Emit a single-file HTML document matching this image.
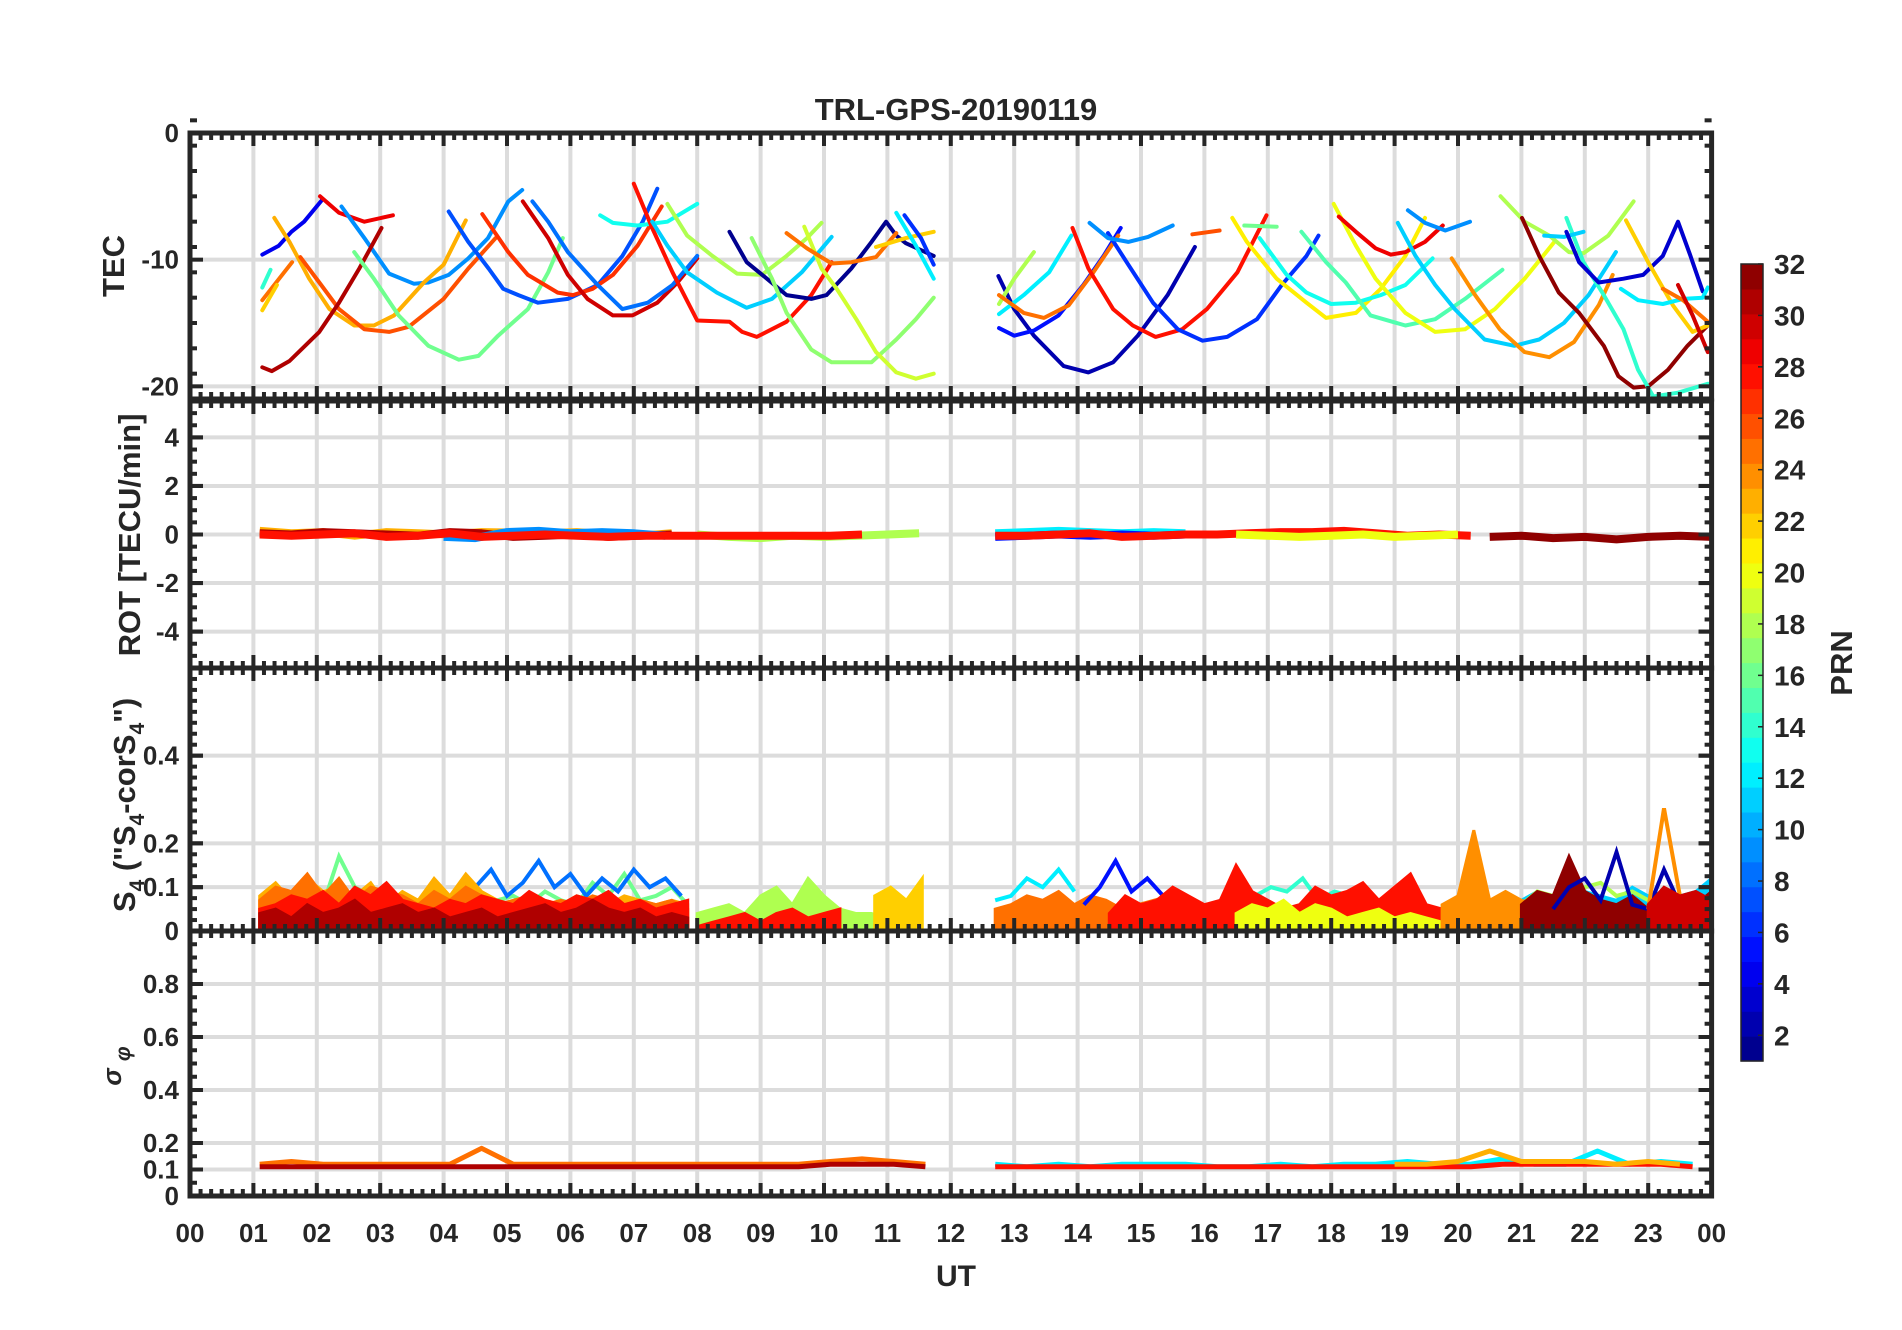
<!DOCTYPE html>
<html><head><meta charset="utf-8"><title>TRL-GPS-20190119</title>
<style>
html,body{margin:0;padding:0;background:#fff;}
svg{display:block;}
text{font-family:"Liberation Sans",Arial,sans-serif;font-weight:bold;fill:#262626;}
</style></head>
<body>
<svg id="chart" width="1902" height="1330" viewBox="0 0 1902 1330" xmlns="http://www.w3.org/2000/svg">
<rect x="0" y="0" width="1902" height="1330" fill="#fff"/>
<text x="956" y="120" font-size="31" text-anchor="middle">TRL-GPS-20190119</text>
<text x="956" y="1286" font-size="30" text-anchor="middle">UT</text>
<text transform="translate(124,266) rotate(-90)" font-size="31" text-anchor="middle">TEC</text>
<text transform="translate(140,535) rotate(-90)" font-size="31" text-anchor="middle">ROT [TECU/min]</text>
<text transform="translate(135,805) rotate(-90)" font-size="31" text-anchor="middle">S<tspan font-size="21" dy="9">4</tspan><tspan dy="-9"> ("S</tspan><tspan font-size="21" dy="9">4</tspan><tspan dy="-9">-corS</tspan><tspan font-size="21" dy="9">4</tspan><tspan dy="-9">")</tspan></text>
<text transform="translate(121,1066) rotate(-90)" font-size="26" font-style="italic" font-weight="normal" font-family="Liberation Serif, serif" text-anchor="middle">σ <tspan font-size="21" dy="9">φ</tspan></text>
<text transform="translate(1852,663) rotate(-90)" font-size="31" text-anchor="middle">PRN</text>
<g id="layer-grid"></g>
<g id="layer-data"></g>
<g id="layer-axes"></g>
<g id="layer-cbar"></g>
</svg>
<script>
// ---------------- DATA ----------------
const hourLabels = ["00","01","02","03","04","05","06","07","08","09","10","11","12","13","14","15","16","17","18","19","20","21","22","23","00"];
const tecTicks = [0,-10,-20];
const rotTicks = [4,2,0,-2,-4];
const s4Ticks = [0.4,0.2,0.1,0];
const sigTicks = [0.8,0.6,0.4,0.2,0.1,0];
const cbarTicks = [2,4,6,8,10,12,14,16,18,20,22,24,26,28,30,32];

// TEC curves: interleaved [hour, TEC]
const tecC1 = [1.14,-9.6, 1.4,-8.9, 1.6,-7.8, 1.8,-7.0, 2.08,-5.3];
const tecC2 = [2.05,-5.0, 2.35,-6.3, 2.75,-7.0, 3.2,-6.5];
const tecC3 = [2.39,-5.8, 2.75,-8.3, 3.14,-11.1, 3.53,-11.9, 3.76,-11.8, 4.08,-11.2, 4.39,-9.9, 4.7,-8.3, 5.02,-5.4, 5.24,-4.5];
const tecC4 = [1.33,-6.7, 1.57,-8.6, 1.88,-11.5, 2.2,-13.9, 2.59,-15.2, 2.9,-15.2, 3.22,-14.4, 3.69,-11.8, 4.0,-10.4, 4.35,-6.9];
const tecC5 = [1.74,-9.8, 2.04,-11.8, 2.35,-13.9, 2.75,-15.5, 3.14,-15.7, 3.45,-15.3, 4.0,-13.1, 4.39,-10.7, 4.82,-8.3];
const tecC6 = [1.14,-13.2, 1.61,-10.2];
const tecC7 = [1.14,-14.0, 1.37,-12.0];
const tecC8 = [1.14,-12.2, 1.27,-10.8];
const tecC9 = [1.14,-18.5, 1.29,-18.8, 1.57,-18.0, 2.04,-15.7, 2.35,-13.4, 2.67,-10.7, 3.02,-7.5];
const tecC10 = [2.59,-9.4, 2.9,-11.5, 3.29,-14.4, 3.76,-16.8, 4.24,-17.9, 4.55,-17.6, 4.86,-16.0, 5.33,-13.9, 5.65,-11.0, 5.88,-8.3];
const tecC11 = [4.08,-6.2, 4.39,-8.6, 4.71,-10.7, 4.94,-12.3, 5.18,-12.8, 5.49,-13.4, 5.96,-13.1, 6.43,-12.0, 6.82,-9.7, 7.14,-7.0, 7.37,-4.4];
const tecC12 = [4.61,-6.4, 5.02,-9.4, 5.33,-11.2, 5.8,-12.6, 6.04,-12.8, 6.35,-12.3, 6.67,-11.2, 7.06,-8.9, 7.44,-5.8];
const tecC13 = [5.25,-5.4, 5.65,-8.3, 5.96,-11.2, 6.27,-13.1, 6.67,-14.4, 6.98,-14.4, 7.37,-13.4, 7.69,-11.8, 8.0,-9.9];
const tecC14 = [5.4,-5.4, 5.65,-7.0, 5.96,-9.4, 6.43,-12.0, 6.82,-13.9, 7.22,-13.4, 7.61,-12.0, 8.0,-9.7];
const tecC15 = [6.47,-6.5, 6.67,-7.1, 7.06,-7.3, 7.53,-7.0, 8.0,-5.6];
const tecC16 = [7.0,-4.0, 7.29,-7.5, 7.61,-11.0, 8.0,-14.8, 8.51,-14.9, 8.71,-15.7, 8.94,-16.1, 9.41,-14.9, 9.8,-12.8, 10.12,-10.2];
const tecC17 = [7.29,-7.0, 7.53,-8.9, 7.84,-11.0, 8.31,-12.6, 8.78,-13.8, 9.18,-13.1, 9.65,-11.0, 10.12,-8.2];
const tecC18 = [7.53,-5.6, 7.84,-8.1, 8.24,-9.7, 8.63,-11.1, 9.02,-11.2, 9.41,-9.7, 9.73,-8.3, 9.96,-7.1];
const tecC19 = [8.51,-7.8, 8.78,-10.2, 9.1,-11.5, 9.41,-12.8, 9.8,-13.1, 10.04,-12.8, 10.43,-10.7, 10.75,-8.6, 10.98,-7.0, 11.14,-8.1, 11.29,-8.7, 11.73,-9.7];
const tecC20 = [8.86,-8.3, 9.18,-11.5, 9.41,-14.2, 9.8,-17.1, 10.12,-18.1, 10.75,-18.1, 11.14,-16.3, 11.45,-14.7, 11.73,-13.0];
const tecC21 = [9.69,-7.4, 9.96,-10.7, 10.2,-12.3, 10.51,-14.7, 10.82,-17.3, 11.14,-18.9, 11.45,-19.4, 11.73,-19.0];
const tecC22 = [9.41,-7.9, 9.73,-9.1, 10.12,-10.3, 10.43,-10.2, 10.82,-9.8, 11.14,-7.9];
const tecC23 = [10.82,-9.0, 11.29,-8.3, 11.73,-7.8];
const tecC24 = [11.14,-6.3, 11.45,-8.9, 11.73,-11.5];
const tecC25 = [11.27,-6.5, 11.53,-8.3, 11.73,-10.4];
const tecC26 = [12.75,-11.3, 13.0,-13.9, 13.31,-16.0, 13.78,-18.4, 14.17,-18.9, 14.56,-18.1, 14.95,-16.0, 15.42,-12.8, 15.85,-9.0];
const tecC27 = [12.76,-15.4, 13.0,-16.0, 13.31,-15.6, 13.7,-14.4, 14.09,-12.0, 14.41,-9.7, 14.68,-7.5];
const tecC28 = [12.76,-14.3, 13.15,-12.8, 13.55,-11.0, 13.9,-8.1];
const tecC29 = [12.76,-13.5, 13.0,-11.5, 13.31,-9.4];
const tecC30 = [12.76,-12.8, 13.15,-14.2, 13.47,-14.6, 13.86,-13.6, 14.25,-11.0, 14.64,-8.1];
const tecC31 = [13.92,-7.5, 14.17,-10.7, 14.56,-13.9, 14.87,-15.2, 15.23,-16.1, 15.65,-15.5, 16.04,-13.9, 16.52,-11.0, 16.98,-6.5];
const tecC32 = [14.48,-7.9, 14.8,-10.4, 15.19,-13.4, 15.58,-15.5, 15.97,-16.4, 16.36,-16.1, 16.83,-14.7, 17.22,-12.0, 17.61,-9.7, 17.8,-8.1];
const tecC33 = [14.19,-7.1, 14.48,-8.3, 14.8,-8.6, 15.11,-8.2, 15.5,-7.3];
const tecC34 = [15.81,-8.0, 16.24,-7.7];
const tecC35 = [16.63,-7.3, 17.14,-7.4];
const tecC36 = [16.44,-6.7, 16.67,-8.6, 17.14,-11.5, 17.61,-13.4, 17.92,-14.6, 18.39,-14.2, 18.78,-12.3, 19.17,-9.7, 19.48,-6.7];
const tecC37 = [16.87,-8.3, 17.3,-11.2, 17.61,-12.6, 18.0,-13.5, 18.39,-13.4, 18.78,-12.8, 19.17,-12.0, 19.6,-9.9];
const tecC38 = [17.53,-7.8, 17.92,-10.2, 18.23,-11.8, 18.62,-14.4, 19.17,-15.2, 19.64,-14.7, 20.11,-13.1, 20.7,-10.8];
const tecC39 = [18.04,-5.6, 18.39,-8.9, 18.7,-11.5, 19.17,-14.2, 19.64,-15.7, 20.11,-15.5, 20.58,-13.9, 21.05,-11.5, 21.52,-8.6];
const tecC40 = [18.12,-6.6, 18.39,-7.8, 18.7,-9.1, 18.94,-9.6, 19.17,-9.4, 19.48,-8.6, 19.76,-7.3];
const tecC41 = [19.21,-6.1, 19.48,-7.1, 19.8,-7.7, 20.19,-7.0];
const tecC42 = [19.05,-7.1, 19.33,-9.7, 19.64,-12.0, 19.95,-13.9, 20.42,-16.3, 20.89,-16.8, 21.28,-16.3, 21.67,-15.0, 22.06,-12.8, 22.49,-9.4];
const tecC43 = [19.9,-9.9, 20.27,-12.8, 20.66,-15.5, 21.05,-17.3, 21.44,-17.7, 21.83,-16.5, 22.22,-13.6, 22.44,-11.2];
const tecC44 = [20.67,-5.0, 21.05,-7.0, 21.44,-8.1, 21.75,-9.4, 21.98,-9.5, 22.37,-8.1, 22.77,-5.4];
const tecC45 = [21.01,-6.7, 21.28,-9.7, 21.59,-12.6, 21.91,-14.2, 22.3,-16.8, 22.53,-19.2, 22.77,-20.1, 23.0,-20.0, 23.31,-18.7, 23.62,-16.8, 23.94,-15.2];
const tecC46 = [21.71,-6.7, 21.98,-10.2, 22.3,-12.8, 22.61,-15.5, 22.84,-18.7, 23.08,-20.8, 23.47,-20.5, 23.94,-19.8];
const tecC47 = [21.36,-8.1, 21.67,-8.2, 21.98,-7.8];
const tecC48 = [21.71,-7.8, 21.91,-10.2, 22.22,-11.8, 22.61,-11.5, 22.92,-11.2, 23.23,-9.7, 23.47,-7.0, 23.66,-9.6, 23.86,-12.5];
const tecC49 = [22.65,-6.9, 23.0,-10.2, 23.39,-13.6, 23.7,-15.7, 23.94,-15.2];
const tecC50 = [22.57,-12.3, 22.84,-13.2, 23.23,-13.5, 23.55,-13.1, 23.86,-13.0, 23.94,-12.2];
const tecC51 = [23.23,-12.3, 23.55,-13.2, 23.94,-14.9];
const tecC52 = [23.47,-12.0, 23.7,-14.4, 23.94,-17.3];
const tecPrns = [4,29,9,23,26,25,22,14,31,16,7,27,30,8,13,28,11,18,1,17,19,25,22,12,6,
                 2,5,12,18,25,28,6,9,26,16,21,13,15,20,29,9,11,24,18,32,14,11,3,22,12,25,30];
const tecCurves = [tecC1,tecC2,tecC3,tecC4,tecC5,tecC6,tecC7,tecC8,tecC9,tecC10,tecC11,tecC12,tecC13,tecC14,tecC15,tecC16,tecC17,tecC18,tecC19,tecC20,tecC21,tecC22,tecC23,tecC24,tecC25,
                   tecC26,tecC27,tecC28,tecC29,tecC30,tecC31,tecC32,tecC33,tecC34,tecC35,tecC36,tecC37,tecC38,tecC39,tecC40,tecC41,tecC42,tecC43,tecC44,tecC45,tecC46,tecC47,tecC48,tecC49,tecC50,tecC51,tecC52];

// ROT series: start hour, step 0.5 h, values TECU/min
const rotStarts = [1.1, 1.1, 4.0, 1.1, 12.7, 12.7, 16.5, 20.5, 12.7, 8.0];
const rotPrns   = [23, 31, 9, 28, 12, 28, 20, 32, 5, 18];
const rotV1 = [0.15,0.05,0.1,-0.05,0.1,0.05,0.0,0.1,0.08,0.05,0.1,0.0,-0.05,0.05];
const rotV2 = [0.05,0.0,0.1,0.05,0.0,-0.05,0.1,0.05,-0.1,-0.05,0.0,-0.1,-0.05,0.0];
const rotV3 = [-0.1,-0.15,0.1,0.15,0.05,0.1,0.05,-0.05];
const rotV4 = [0.0,-0.05,0.0,0.05,-0.1,-0.05,0.05,-0.1,-0.05,0.0,-0.05,-0.1,-0.05,-0.05,-0.05,-0.05,-0.05,-0.05,-0.05,0.0];
const rotV5 = [0.05,0.1,0.15,0.1,0.05,0.1,0.05];
const rotV6 = [-0.05,-0.05,0.0,0.05,-0.1,-0.05,0.0,0.0,0.05,0.1,0.1,0.15,0.05,-0.05,0.0,-0.05];
const rotV7 = [0.0,-0.05,-0.1,-0.05,0.0,-0.1,-0.05,0.0];
const rotV8 = [-0.1,-0.05,-0.15,-0.1,-0.2,-0.1,-0.05,-0.1,-0.1,-0.15];
const rotV9 = [-0.1,-0.05,0.0,-0.05,0.0,-0.05,0.0,0.0];
const rotV10 = [0.0,-0.1,-0.15,-0.05,-0.1,-0.05,0.0,0.05];
const rotSeries = [rotV1,rotV2,rotV3,rotV10,rotV4,rotV5,rotV9,rotV6,rotV7,rotV8];
const rotOrderPrns = [23,31,9,18,28,12,5,28,20,32];
const rotOrderStarts = [1.1,1.1,4.0,8.0,1.1,12.7,12.7,12.7,16.5,20.5];

// S4 series: start hour, step 0.25 h; mode 1 = filled band, 0 = spike line
const s4Starts = [1.1, 4.0, 1.1, 1.1, 1.1, 1.1, 8.0, 10.8, 8.0, 12.7, 12.7, 14.1, 16.8, 21.0, 21.0, 14.5, 16.5, 19.75, 21.0, 21.5, 23.0, 23.0];
const s4Prns   = [16, 8, 23, 25, 28, 31, 18, 22, 28, 12, 25, 5, 14, 11, 18, 28, 20, 24, 32, 2, 24, 30];
const s4Mode   = [0, 0, 1, 1, 1, 1, 1, 1, 1, 0, 1, 0, 0, 1, 0, 1, 1, 1, 1, 0, 0, 1];
const s4V1 = [0.05,0.04,0.06,0.08,0.06,0.17,0.10,0.08,0.06,0.05,0.07,0.06,0.08,0.06,0.05,0.07,0.08,0.06,0.09,0.07,0.06,0.11,0.08,0.13,0.07,0.08,0.10,0.06];
const s4V3 = [0.04,0.06,0.10,0.14,0.08,0.11,0.16,0.10,0.13,0.08,0.12,0.09,0.14,0.10,0.12,0.08];
const s4V2 = [0.08,0.11,0.07,0.12,0.09,0.10,0.08,0.11,0.06,0.09,0.07,0.12,0.08,0.13,0.09,0.07,0.06,0.08,0.07,0.06,0.08,0.07,0.06,0.08,0.07,0.06,0.07,0.06];
const s4V4 = [0.07,0.10,0.09,0.13,0.08,0.12,0.07,0.10,0.09,0.08,0.06,0.09,0.07,0.10,0.08,0.06,0.07,0.08,0.06,0.07,0.06,0.08,0.07,0.06,0.07,0.06,0.07,0.05];
const s4V5 = [0.05,0.06,0.08,0.07,0.09,0.06,0.10,0.08,0.11,0.07,0.06,0.05,0.07,0.06,0.08,0.07,0.06,0.09,0.07,0.06,0.08,0.07,0.09,0.06,0.07,0.05,0.06,0.07];
const s4V22 = [0.04,0.05,0.03,0.06,0.04,0.05,0.07,0.04,0.05,0.06,0.04,0.05,0.03,0.04,0.05,0.03,0.04,0.05,0.06,0.04,0.05,0.07,0.05,0.04,0.05,0.03,0.04,0.03];
const s4V6 = [0.04,0.05,0.06,0.04,0.08,0.10,0.06,0.12,0.08,0.05,0.04,0.04,0.03,0.04,0.03];
const s4V7 = [0.08,0.10,0.07,0.12];
const s4V8 = [0.01,0.02,0.03,0.04,0.02,0.04,0.05,0.03,0.04,0.05];
const s4V9 = [0.07,0.08,0.12,0.10,0.14,0.09];
const s4V10 = [0.05,0.06,0.08,0.07,0.09,0.06,0.08,0.07,0.05,0.06,0.07,0.08,0.07,0.06,0.05];
const s4V11 = [0.06,0.10,0.16,0.09,0.12,0.08];
const s4V12 = [0.08,0.10,0.09,0.12,0.07,0.09,0.08,0.06,0.07,0.08,0.06];
const s4V13 = [0.07,0.09,0.08,0.10,0.09,0.08,0.07,0.10,0.08,0.09,0.08,0.09,0.12];
const s4V14 = [0.06,0.09,0.08,0.07,0.10,0.11,0.08,0.09,0.07];
const s4V15 = [0.04,0.08,0.06,0.07,0.10,0.08,0.06,0.07,0.15,0.09,0.07,0.05,0.06,0.10,0.08,0.09,0.11,0.07,0.10,0.13,0.06,0.05,0.04,0.05];
const s4V16 = [0.04,0.06,0.05,0.07,0.04,0.06,0.05,0.03,0.04,0.05,0.03,0.04,0.03,0.02,0.03,0.02];
const s4V17 = [0.06,0.08,0.23,0.07,0.09,0.07,0.06];
const s4V18 = [0.06,0.09,0.08,0.17,0.09,0.07,0.06,0.08,0.05,0.04,0.05,0.06,0.09];
const s4V19 = [0.05,0.10,0.12,0.07,0.18,0.06,0.05,0.14,0.06];
const s4V20 = [0.05,0.28,0.08,0.06];
const s4V21 = [0.06,0.10,0.08,0.09,0.07];
const s4Series = [s4V1,s4V3,s4V2,s4V4,s4V5,s4V22,s4V6,s4V7,s4V8,s4V9,s4V10,s4V11,s4V12,s4V13,s4V14,s4V15,s4V16,s4V17,s4V18,s4V19,s4V20,s4V21];

// sigma-phi series: start hour, step 0.5 h
const sigStarts = [1.1, 1.1, 12.7, 12.7, 19.0];
const sigPrns   = [25, 31, 12, 28, 23];
const sigV1 = [0.12,0.13,0.12,0.12,0.12,0.12,0.12,0.18,0.12,0.12,0.12,0.12,0.12,0.12,0.12,0.12,0.12,0.12,0.13,0.14,0.13,0.12];
const sigV2 = [0.11,0.11,0.11,0.11,0.11,0.11,0.11,0.11,0.11,0.11,0.11,0.11,0.11,0.11,0.11,0.11,0.11,0.11,0.12,0.12,0.12,0.11];
const sigV3 = [0.12,0.11,0.12,0.11,0.12,0.12,0.12,0.11,0.11,0.12,0.11,0.12,0.12,0.13,0.12,0.12,0.14,0.12,0.12,0.17,0.12,0.13,0.12];
const sigV4 = [0.11,0.11,0.11,0.11,0.11,0.11,0.11,0.11,0.11,0.11,0.11,0.11,0.11,0.11,0.11,0.11,0.12,0.12,0.12,0.12,0.12,0.12,0.11];
const sigV5 = [0.12,0.12,0.13,0.17,0.13,0.13,0.13,0.12,0.13,0.12];
const sigSeries = [sigV1,sigV2,sigV3,sigV4,sigV5];

// ---------------- RENDER ----------------
const NS = "http://www.w3.org/2000/svg";
const X0 = 190, PXH = 63.4;
const panels = {
  tec: {top:133, bot:399, vmax:0, vmin:-21, majors:tecTicks, minorStep:2, labels:["0","-10","-20"]},
  rot: {top:401, bot:668, vmax:5.5, vmin:-5.5, majors:rotTicks, minorStep:0.5, labels:["4","2","0","-2","-4"]},
  s4:  {top:668, bot:931, vmax:0.6, vmin:0, majors:s4Ticks, minorStep:0.025, labels:["0.4","0.2","0.1","0"]},
  sig: {top:931, bot:1196, vmax:1, vmin:0, majors:sigTicks, minorStep:0.05, labels:["0.8","0.6","0.4","0.2","0.1","0"]}
};
function xOf(h){ return X0 + h*PXH; }
function yOf(p,v){ return p.top + (p.vmax - v)/(p.vmax - p.vmin)*(p.bot - p.top); }
function jet(prn){
  const x = (prn-0.5)/32;
  const c = t => Math.round(255*Math.max(0,Math.min(1,t)));
  return "rgb("+c(1.5-Math.abs(4*x-3))+","+c(1.5-Math.abs(4*x-2))+","+c(1.5-Math.abs(4*x-1))+")";
}
function mk(tag, attrs, parent){
  const e = document.createElementNS(NS, tag);
  for (const k in attrs) e.setAttribute(k, attrs[k]);
  parent.appendChild(e);
  return e;
}
const gGrid = document.getElementById("layer-grid");
const gData = document.getElementById("layer-data");
const gAxes = document.getElementById("layer-axes");
const gCbar = document.getElementById("layer-cbar");
const svg = document.getElementById("chart");
const defs = mk("defs", {}, svg);
const AXC = "#262626";
const XR = xOf(24);

Object.keys(panels).forEach(function(key){
  const p = panels[key];
  const cp = mk("clipPath", {id:"clip-"+key}, defs);
  mk("rect", {x:X0, y:p.top, width:XR-X0, height:p.bot-p.top}, cp);
  for (let h=1; h<24; h++){
    const gl = mk("line", {x1:xOf(h), x2:xOf(h), y1:p.top, y2:p.bot, stroke:"#dcdcdc", "stroke-width":4}, gGrid);
    
    
  }
  p.majors.forEach(function(v){
    const y = yOf(p,v);
    const gl = mk("line", {x1:X0, x2:XR, y1:y, y2:y, stroke:"#dcdcdc", "stroke-width":4}, gGrid);
    
    
  });
  const tk = mk("g", {stroke:AXC, "stroke-width":4}, gAxes);
  
  
  for (let i=0; i<=144; i++){
    const h = i/6, x = xOf(h), len = (i%6===0) ? 13 : 7;
    mk("line", {x1:x, x2:x, y1:p.top, y2:p.top+len}, tk);
    mk("line", {x1:x, x2:x, y1:p.bot, y2:p.bot-len}, tk);
  }
  const n = Math.round((p.vmax-p.vmin)/p.minorStep);
  for (let i=0; i<=n; i++){
    const v = p.vmin + i*p.minorStep;
    const isMaj = p.majors.some(m => Math.abs(m-v) < 1e-6);
    const y = yOf(p,v), len = isMaj ? 13 : 7;
    mk("line", {x1:X0, x2:X0+len, y1:y, y2:y}, tk);
    mk("line", {x1:XR, x2:XR-len, y1:y, y2:y}, tk);
  }
  p.majors.forEach(function(v){
    const y = yOf(p,v);
    mk("line", {x1:X0, x2:X0+13, y1:y, y2:y}, tk);
    mk("line", {x1:XR, x2:XR-13, y1:y, y2:y}, tk);
  });
  const bx = mk("rect", {x:X0, y:p.top, width:XR-X0, height:p.bot-p.top, fill:"none", stroke:AXC, "stroke-width":5}, gAxes);
  
  
  p.majors.forEach(function(v, i){
    const t = mk("text", {x:179, y:yOf(p,v)+9, "font-size":26, "text-anchor":"end"}, gAxes);
    t.textContent = p.labels[i];
    
    
  });
});

hourLabels.forEach(function(lab, i){
  const t = mk("text", {x:xOf(i), y:1242, "font-size":26, "text-anchor":"middle"}, gAxes);
  t.textContent = lab;
  
  
});

// TEC curves
const gTec = mk("g", {"clip-path":"url(#clip-tec)"}, gData);


tecCurves.forEach(function(arr, i){
  const pts = [];
  for (let k=0; k<arr.length; k+=2) pts.push(xOf(arr[k]).toFixed(1)+","+yOf(panels.tec, arr[k+1]).toFixed(1));
  const pl = mk("polyline", {points:pts.join(" "), fill:"none", stroke:jet(tecPrns[i]), "stroke-width":4, "stroke-linejoin":"round", "stroke-linecap":"round"}, gTec);
  
  
});

// ROT series
const gRot = mk("g", {"clip-path":"url(#clip-rot)"}, gData);


rotSeries.forEach(function(vals, i){
  const pts = vals.map((v,k) => xOf(rotOrderStarts[i]+k*0.5).toFixed(1)+","+yOf(panels.rot, v).toFixed(1));
  const pl = mk("polyline", {points:pts.join(" "), fill:"none", stroke:jet(rotOrderPrns[i]), "stroke-width":8, "stroke-linejoin":"round"}, gRot);
  
  
});

// S4 series
const gS4 = mk("g", {"clip-path":"url(#clip-s4)"}, gData);


s4Series.forEach(function(vals, i){
  const p = panels.s4;
  const xs = vals.map((v,k) => xOf(s4Starts[i]+k*0.25));
  const top = vals.map((v,k) => xs[k].toFixed(1)+","+yOf(p, v).toFixed(1));
  if (s4Mode[i] === 1){
    const base = yOf(p, 0.008).toFixed(1);
    const poly = [xs[0].toFixed(1)+","+base].concat(top).concat([xs[xs.length-1].toFixed(1)+","+base]);
    const pg = mk("polygon", {points:poly.join(" "), fill:jet(s4Prns[i]), stroke:jet(s4Prns[i]), "stroke-width":3}, gS4);
    
    
  } else {
    const pl = mk("polyline", {points:top.join(" "), fill:"none", stroke:jet(s4Prns[i]), "stroke-width":4, "stroke-linejoin":"miter"}, gS4);
    
    
  }
});

// sigma-phi series
const gSig = mk("g", {"clip-path":"url(#clip-sig)"}, gData);


sigSeries.forEach(function(vals, i){
  const pts = vals.map((v,k) => xOf(sigStarts[i]+k*0.5).toFixed(1)+","+yOf(panels.sig, v).toFixed(1));
  const pl = mk("polyline", {points:pts.join(" "), fill:"none", stroke:jet(sigPrns[i]), "stroke-width":5, "stroke-linejoin":"round"}, gSig);
  
  
});

// colorbar
const CB = {x:1741, w:22, top:264, bot:1061, vmin:1, vmax:32};
function cbY(v){ return CB.bot - (v-CB.vmin)/(CB.vmax-CB.vmin)*(CB.bot-CB.top); }
const bandH = (CB.bot-CB.top)/32;
for (let prn=1; prn<=32; prn++){
  const r = mk("rect", {x:CB.x, y:CB.bot-prn*bandH, width:CB.w, height:bandH+0.6, fill:jet(prn)}, gCbar);
  
  
}
const cbf = mk("rect", {x:CB.x, y:CB.top, width:CB.w, height:CB.bot-CB.top, fill:"none", stroke:AXC, "stroke-width":1.5}, gCbar);


cbarTicks.forEach(function(v){
  const y = cbY(v);
  mk("line", {x1:CB.x+CB.w-5, x2:CB.x+CB.w, y1:y, y2:y, stroke:AXC, "stroke-width":1.5}, gCbar);
  const t = mk("text", {x:1774, y:y+10, "font-size":28}, gCbar);
  t.textContent = String(v);
  
  
});
</script>
</body></html>
